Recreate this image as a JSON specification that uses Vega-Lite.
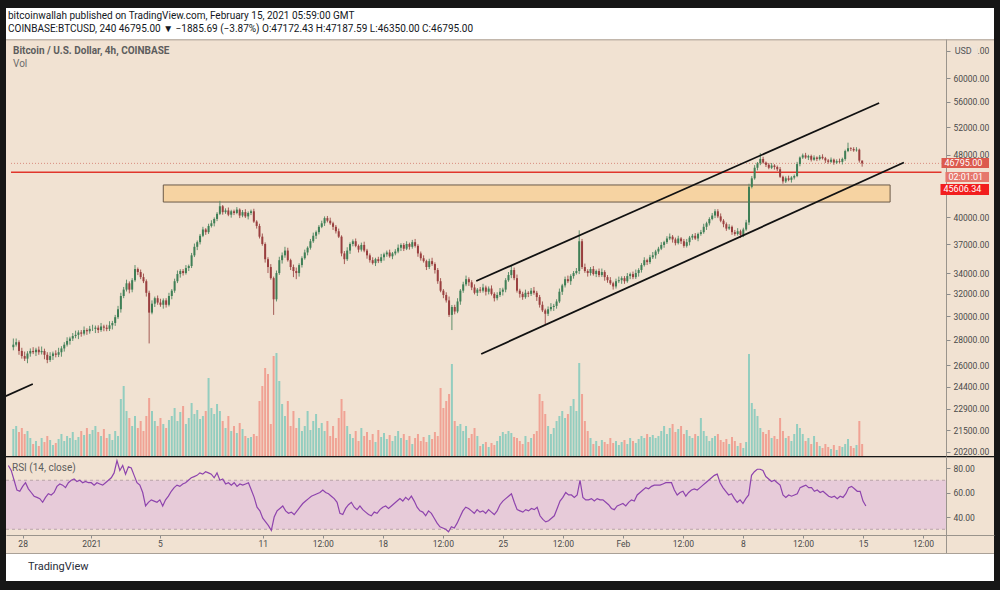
{
  "$schema": "https://vega.github.io/schema/vega-lite/v6.json",
  "background": "#161616",
  "padding": {"left": 5, "top": 8, "right": 7, "bottom": 10},
  "spacing": 0,
  "config": {
    "view": {"stroke": null},
    "font": "Roboto",
    "title": {"anchor": "start", "frame": "group", "font": "Roboto", "fontWeight": "normal", "subtitleFont": "Roboto"},
    "axis": {"labelFont": "Roboto", "labelColor": "#4a4a4a", "labelFontSize": 8.5, "tickColor": "#8c8c8c", "domainColor": "#9a948c", "grid": false, "title": null}
  },
  "datasets": {
    "candles": [
      {"t":"2020-12-27T04:00Z","o":27400,"h":28100,"l":27150,"c":27600,"v":270,"r":82},
      {"t":"2020-12-27T08:00Z","o":27600,"h":28100,"l":27450,"c":27800,"v":300,"r":78},
      {"t":"2020-12-27T12:00Z","o":27800,"h":27950,"l":26800,"c":27100,"v":240,"r":70},
      {"t":"2020-12-27T16:00Z","o":27100,"h":27350,"l":26500,"c":26700,"v":280,"r":62},
      {"t":"2020-12-27T20:00Z","o":26700,"h":27050,"l":26320,"c":26500,"v":220,"r":61},
      {"t":"2020-12-28T00:00Z","o":26500,"h":27080,"l":26150,"c":26900,"v":250,"r":65},
      {"t":"2020-12-28T04:00Z","o":26900,"h":27300,"l":26650,"c":27100,"v":180,"r":68},
      {"t":"2020-12-28T08:00Z","o":27100,"h":27400,"l":26850,"c":27000,"v":120,"r":63},
      {"t":"2020-12-28T12:00Z","o":27000,"h":27350,"l":26700,"c":27200,"v":150,"r":60},
      {"t":"2020-12-28T16:00Z","o":27200,"h":27450,"l":26800,"c":27000,"v":100,"r":57},
      {"t":"2020-12-28T20:00Z","o":27000,"h":27450,"l":26820,"c":27100,"v":180,"r":56},
      {"t":"2020-12-29T00:00Z","o":27100,"h":27280,"l":26450,"c":26800,"v":140,"r":55},
      {"t":"2020-12-29T04:00Z","o":26800,"h":27000,"l":26150,"c":26400,"v":200,"r":52},
      {"t":"2020-12-29T08:00Z","o":26400,"h":27000,"l":26250,"c":26700,"v":160,"r":56},
      {"t":"2020-12-29T12:00Z","o":26700,"h":27050,"l":26400,"c":26900,"v":110,"r":59},
      {"t":"2020-12-29T16:00Z","o":26900,"h":27150,"l":26600,"c":26800,"v":130,"r":58},
      {"t":"2020-12-29T20:00Z","o":26800,"h":27350,"l":26620,"c":27000,"v":170,"r":60},
      {"t":"2020-12-30T00:00Z","o":27000,"h":27480,"l":26650,"c":27300,"v":220,"r":65},
      {"t":"2020-12-30T04:00Z","o":27300,"h":27800,"l":27050,"c":27600,"v":150,"r":67},
      {"t":"2020-12-30T08:00Z","o":27600,"h":28200,"l":27450,"c":27900,"v":200,"r":66},
      {"t":"2020-12-30T12:00Z","o":27900,"h":28250,"l":27600,"c":28100,"v":180,"r":64},
      {"t":"2020-12-30T16:00Z","o":28100,"h":28550,"l":27900,"c":28300,"v":240,"r":68},
      {"t":"2020-12-30T20:00Z","o":28300,"h":28750,"l":28120,"c":28400,"v":160,"r":70},
      {"t":"2020-12-31T00:00Z","o":28400,"h":28780,"l":28050,"c":28600,"v":190,"r":71},
      {"t":"2020-12-31T04:00Z","o":28600,"h":28800,"l":28250,"c":28500,"v":250,"r":69},
      {"t":"2020-12-31T08:00Z","o":28500,"h":29100,"l":28350,"c":28800,"v":210,"r":70},
      {"t":"2020-12-31T12:00Z","o":28800,"h":28950,"l":28400,"c":28700,"v":280,"r":68},
      {"t":"2020-12-31T16:00Z","o":28700,"h":29150,"l":28500,"c":28900,"v":220,"r":69},
      {"t":"2020-12-31T20:00Z","o":28900,"h":29250,"l":28720,"c":28900,"v":260,"r":68},
      {"t":"2021-01-01T00:00Z","o":28900,"h":29180,"l":28550,"c":29000,"v":300,"r":68},
      {"t":"2021-01-01T04:00Z","o":29000,"h":29200,"l":28550,"c":28800,"v":240,"r":66},
      {"t":"2021-01-01T08:00Z","o":28800,"h":29400,"l":28650,"c":29100,"v":200,"r":68},
      {"t":"2021-01-01T12:00Z","o":29100,"h":29250,"l":28700,"c":29000,"v":270,"r":67},
      {"t":"2021-01-01T16:00Z","o":29000,"h":29250,"l":28700,"c":28900,"v":180,"r":66},
      {"t":"2021-01-01T20:00Z","o":28900,"h":29550,"l":28720,"c":29200,"v":220,"r":68},
      {"t":"2021-01-02T00:00Z","o":29200,"h":29580,"l":28850,"c":29400,"v":160,"r":70},
      {"t":"2021-01-02T04:00Z","o":29400,"h":30100,"l":29150,"c":29900,"v":250,"r":72},
      {"t":"2021-01-02T08:00Z","o":29900,"h":30900,"l":29750,"c":30600,"v":200,"r":76},
      {"t":"2021-01-02T12:00Z","o":30600,"h":32100,"l":30300,"c":31800,"v":570,"r":86},
      {"t":"2021-01-02T16:00Z","o":31800,"h":32650,"l":31600,"c":32400,"v":700,"r":78},
      {"t":"2021-01-02T20:00Z","o":32400,"h":33350,"l":32220,"c":33000,"v":450,"r":82},
      {"t":"2021-01-03T00:00Z","o":33000,"h":33180,"l":32050,"c":32400,"v":380,"r":75},
      {"t":"2021-01-03T04:00Z","o":32400,"h":33500,"l":32150,"c":33300,"v":300,"r":81},
      {"t":"2021-01-03T08:00Z","o":33300,"h":34800,"l":33150,"c":34400,"v":400,"r":80},
      {"t":"2021-01-03T12:00Z","o":34400,"h":34550,"l":33800,"c":34100,"v":280,"r":74},
      {"t":"2021-01-03T16:00Z","o":34100,"h":34350,"l":33400,"c":33600,"v":350,"r":68},
      {"t":"2021-01-03T20:00Z","o":33600,"h":33950,"l":33020,"c":33200,"v":250,"r":66},
      {"t":"2021-01-04T00:00Z","o":33200,"h":33380,"l":31750,"c":32100,"v":400,"r":60},
      {"t":"2021-01-04T04:00Z","o":32100,"h":32300,"l":27700,"c":30300,"v":580,"r":49},
      {"t":"2021-01-04T08:00Z","o":30300,"h":31400,"l":30150,"c":31100,"v":450,"r":52},
      {"t":"2021-01-04T12:00Z","o":31100,"h":31750,"l":30800,"c":31600,"v":350,"r":54},
      {"t":"2021-01-04T16:00Z","o":31600,"h":31850,"l":31000,"c":31200,"v":300,"r":53},
      {"t":"2021-01-04T20:00Z","o":31200,"h":31550,"l":30820,"c":31000,"v":380,"r":52},
      {"t":"2021-01-05T00:00Z","o":31000,"h":31580,"l":30650,"c":31400,"v":320,"r":54},
      {"t":"2021-01-05T04:00Z","o":31400,"h":31600,"l":30750,"c":31000,"v":280,"r":49},
      {"t":"2021-01-05T08:00Z","o":31000,"h":32100,"l":30850,"c":31800,"v":360,"r":54},
      {"t":"2021-01-05T12:00Z","o":31800,"h":32450,"l":31500,"c":32300,"v":400,"r":57},
      {"t":"2021-01-05T16:00Z","o":32300,"h":33450,"l":32100,"c":33200,"v":480,"r":61},
      {"t":"2021-01-05T20:00Z","o":33200,"h":34250,"l":33020,"c":33900,"v":350,"r":64},
      {"t":"2021-01-06T00:00Z","o":33900,"h":34380,"l":33550,"c":34200,"v":440,"r":66},
      {"t":"2021-01-06T04:00Z","o":34200,"h":34400,"l":33750,"c":34000,"v":500,"r":65},
      {"t":"2021-01-06T08:00Z","o":34000,"h":34800,"l":33850,"c":34500,"v":320,"r":67},
      {"t":"2021-01-06T12:00Z","o":34500,"h":34850,"l":34200,"c":34700,"v":380,"r":68},
      {"t":"2021-01-06T16:00Z","o":34700,"h":36050,"l":34500,"c":35800,"v":530,"r":70},
      {"t":"2021-01-06T20:00Z","o":35800,"h":37050,"l":35620,"c":36700,"v":420,"r":72},
      {"t":"2021-01-07T00:00Z","o":36700,"h":37380,"l":36350,"c":37200,"v":460,"r":73},
      {"t":"2021-01-07T04:00Z","o":37200,"h":38100,"l":36950,"c":37900,"v":370,"r":74},
      {"t":"2021-01-07T08:00Z","o":37900,"h":38900,"l":37750,"c":38600,"v":400,"r":76},
      {"t":"2021-01-07T12:00Z","o":38600,"h":38750,"l":38000,"c":38300,"v":450,"r":75},
      {"t":"2021-01-07T16:00Z","o":38300,"h":39250,"l":38100,"c":39000,"v":780,"r":77},
      {"t":"2021-01-07T20:00Z","o":39000,"h":39650,"l":38820,"c":39300,"v":480,"r":76},
      {"t":"2021-01-08T00:00Z","o":39300,"h":39980,"l":38950,"c":39800,"v":420,"r":75},
      {"t":"2021-01-08T04:00Z","o":39800,"h":40600,"l":39550,"c":40400,"v":520,"r":72},
      {"t":"2021-01-08T08:00Z","o":40400,"h":41950,"l":40250,"c":41300,"v":450,"r":76},
      {"t":"2021-01-08T12:00Z","o":41300,"h":41450,"l":40300,"c":40600,"v":350,"r":70},
      {"t":"2021-01-08T16:00Z","o":40600,"h":41050,"l":40400,"c":40800,"v":280,"r":71},
      {"t":"2021-01-08T20:00Z","o":40800,"h":41150,"l":40120,"c":40300,"v":400,"r":67},
      {"t":"2021-01-09T00:00Z","o":40300,"h":40880,"l":39950,"c":40700,"v":250,"r":68},
      {"t":"2021-01-09T04:00Z","o":40700,"h":40900,"l":40250,"c":40500,"v":300,"r":66},
      {"t":"2021-01-09T08:00Z","o":40500,"h":41200,"l":40350,"c":40900,"v":230,"r":68},
      {"t":"2021-01-09T12:00Z","o":40900,"h":41050,"l":39900,"c":40200,"v":330,"r":65},
      {"t":"2021-01-09T16:00Z","o":40200,"h":40850,"l":40000,"c":40600,"v":270,"r":67},
      {"t":"2021-01-09T20:00Z","o":40600,"h":40950,"l":39920,"c":40100,"v":200,"r":66},
      {"t":"2021-01-10T00:00Z","o":40100,"h":40680,"l":39750,"c":40500,"v":180,"r":67},
      {"t":"2021-01-10T04:00Z","o":40500,"h":40900,"l":40250,"c":40700,"v":190,"r":68},
      {"t":"2021-01-10T08:00Z","o":40700,"h":41000,"l":39350,"c":39500,"v":220,"r":62},
      {"t":"2021-01-10T12:00Z","o":39500,"h":39650,"l":38700,"c":39000,"v":200,"r":56},
      {"t":"2021-01-10T16:00Z","o":39000,"h":39250,"l":37600,"c":37800,"v":550,"r":48},
      {"t":"2021-01-10T20:00Z","o":37800,"h":38150,"l":36820,"c":37000,"v":700,"r":45},
      {"t":"2021-01-11T00:00Z","o":37000,"h":37180,"l":35050,"c":35400,"v":880,"r":39},
      {"t":"2021-01-11T04:00Z","o":35400,"h":35600,"l":34000,"c":34600,"v":820,"r":36},
      {"t":"2021-01-11T08:00Z","o":34600,"h":34900,"l":33350,"c":33500,"v":320,"r":33},
      {"t":"2021-01-11T12:00Z","o":33500,"h":33650,"l":30100,"c":31500,"v":1000,"r":29},
      {"t":"2021-01-11T16:00Z","o":31500,"h":34250,"l":31300,"c":34000,"v":1030,"r":40},
      {"t":"2021-01-11T20:00Z","o":34000,"h":35650,"l":33820,"c":35300,"v":750,"r":45},
      {"t":"2021-01-12T00:00Z","o":35300,"h":36100,"l":34950,"c":35800,"v":520,"r":47},
      {"t":"2021-01-12T04:00Z","o":35800,"h":36700,"l":35550,"c":36300,"v":400,"r":49},
      {"t":"2021-01-12T08:00Z","o":36300,"h":36600,"l":35150,"c":35300,"v":550,"r":45},
      {"t":"2021-01-12T12:00Z","o":35300,"h":35450,"l":34300,"c":34600,"v":300,"r":43},
      {"t":"2021-01-12T16:00Z","o":34600,"h":34850,"l":33600,"c":34200,"v":450,"r":44},
      {"t":"2021-01-12T20:00Z","o":34200,"h":34550,"l":33400,"c":34000,"v":280,"r":42},
      {"t":"2021-01-13T00:00Z","o":34000,"h":34980,"l":33650,"c":34800,"v":380,"r":45},
      {"t":"2021-01-13T04:00Z","o":34800,"h":35700,"l":34550,"c":35500,"v":250,"r":48},
      {"t":"2021-01-13T08:00Z","o":35500,"h":36400,"l":35350,"c":36100,"v":300,"r":51},
      {"t":"2021-01-13T12:00Z","o":36100,"h":36750,"l":35800,"c":36600,"v":450,"r":53},
      {"t":"2021-01-13T16:00Z","o":36600,"h":37550,"l":36400,"c":37300,"v":260,"r":55},
      {"t":"2021-01-13T20:00Z","o":37300,"h":38250,"l":37120,"c":37900,"v":350,"r":57},
      {"t":"2021-01-14T00:00Z","o":37900,"h":38480,"l":37550,"c":38300,"v":420,"r":58},
      {"t":"2021-01-14T04:00Z","o":38300,"h":39100,"l":38050,"c":38900,"v":280,"r":59},
      {"t":"2021-01-14T08:00Z","o":38900,"h":39600,"l":38750,"c":39300,"v":330,"r":60},
      {"t":"2021-01-14T12:00Z","o":39300,"h":40100,"l":39000,"c":39900,"v":250,"r":62},
      {"t":"2021-01-14T16:00Z","o":39900,"h":40150,"l":39400,"c":39600,"v":350,"r":60},
      {"t":"2021-01-14T20:00Z","o":39600,"h":39950,"l":39120,"c":39300,"v":200,"r":59},
      {"t":"2021-01-15T00:00Z","o":39300,"h":39480,"l":38550,"c":38900,"v":300,"r":57},
      {"t":"2021-01-15T04:00Z","o":38900,"h":39100,"l":38150,"c":38400,"v":180,"r":55},
      {"t":"2021-01-15T08:00Z","o":38400,"h":38700,"l":37650,"c":37800,"v":380,"r":52},
      {"t":"2021-01-15T12:00Z","o":37800,"h":37950,"l":35700,"c":36000,"v":570,"r":43},
      {"t":"2021-01-15T16:00Z","o":36000,"h":36250,"l":34900,"c":35400,"v":450,"r":42},
      {"t":"2021-01-15T20:00Z","o":35400,"h":36650,"l":35220,"c":36300,"v":300,"r":47},
      {"t":"2021-01-16T00:00Z","o":36300,"h":37180,"l":35950,"c":37000,"v":220,"r":50},
      {"t":"2021-01-16T04:00Z","o":37000,"h":37500,"l":36750,"c":37300,"v":180,"r":52},
      {"t":"2021-01-16T08:00Z","o":37300,"h":37600,"l":36650,"c":36800,"v":250,"r":48},
      {"t":"2021-01-16T12:00Z","o":36800,"h":36950,"l":36100,"c":36400,"v":150,"r":46},
      {"t":"2021-01-16T16:00Z","o":36400,"h":37150,"l":36200,"c":36900,"v":280,"r":49},
      {"t":"2021-01-16T20:00Z","o":36900,"h":37250,"l":36120,"c":36300,"v":200,"r":46},
      {"t":"2021-01-17T00:00Z","o":36300,"h":36480,"l":35450,"c":35800,"v":240,"r":44},
      {"t":"2021-01-17T04:00Z","o":35800,"h":36000,"l":35050,"c":35300,"v":160,"r":42},
      {"t":"2021-01-17T08:00Z","o":35300,"h":35600,"l":34850,"c":35000,"v":220,"r":41},
      {"t":"2021-01-17T12:00Z","o":35000,"h":35550,"l":34700,"c":35400,"v":140,"r":44},
      {"t":"2021-01-17T16:00Z","o":35400,"h":35650,"l":35000,"c":35200,"v":260,"r":43},
      {"t":"2021-01-17T20:00Z","o":35200,"h":35950,"l":35020,"c":35600,"v":190,"r":46},
      {"t":"2021-01-18T00:00Z","o":35600,"h":36080,"l":35250,"c":35900,"v":230,"r":48},
      {"t":"2021-01-18T04:00Z","o":35900,"h":36300,"l":35650,"c":36100,"v":170,"r":49},
      {"t":"2021-01-18T08:00Z","o":36100,"h":36400,"l":35550,"c":35700,"v":210,"r":47},
      {"t":"2021-01-18T12:00Z","o":35700,"h":36150,"l":35400,"c":36000,"v":150,"r":49},
      {"t":"2021-01-18T16:00Z","o":36000,"h":36450,"l":35800,"c":36200,"v":200,"r":51},
      {"t":"2021-01-18T20:00Z","o":36200,"h":36950,"l":36020,"c":36600,"v":250,"r":53},
      {"t":"2021-01-19T00:00Z","o":36600,"h":37080,"l":36250,"c":36900,"v":180,"r":55},
      {"t":"2021-01-19T04:00Z","o":36900,"h":37100,"l":36250,"c":36500,"v":220,"r":53},
      {"t":"2021-01-19T08:00Z","o":36500,"h":37300,"l":36350,"c":37000,"v":160,"r":56},
      {"t":"2021-01-19T12:00Z","o":37000,"h":37150,"l":36400,"c":36700,"v":200,"r":54},
      {"t":"2021-01-19T16:00Z","o":36700,"h":37450,"l":36500,"c":37200,"v":120,"r":57},
      {"t":"2021-01-19T20:00Z","o":37200,"h":37550,"l":36620,"c":36800,"v":180,"r":53},
      {"t":"2021-01-20T00:00Z","o":36800,"h":36980,"l":35650,"c":36000,"v":220,"r":48},
      {"t":"2021-01-20T04:00Z","o":36000,"h":36200,"l":35250,"c":35500,"v":150,"r":45},
      {"t":"2021-01-20T08:00Z","o":35500,"h":35800,"l":35050,"c":35200,"v":190,"r":44},
      {"t":"2021-01-20T12:00Z","o":35200,"h":35350,"l":34300,"c":34600,"v":140,"r":41},
      {"t":"2021-01-20T16:00Z","o":34600,"h":35450,"l":34400,"c":35200,"v":210,"r":45},
      {"t":"2021-01-20T20:00Z","o":35200,"h":35550,"l":34720,"c":34900,"v":170,"r":43},
      {"t":"2021-01-21T00:00Z","o":34900,"h":35080,"l":33950,"c":34300,"v":240,"r":39},
      {"t":"2021-01-21T04:00Z","o":34300,"h":34500,"l":32950,"c":33200,"v":200,"r":35},
      {"t":"2021-01-21T08:00Z","o":33200,"h":33500,"l":32150,"c":32300,"v":680,"r":32},
      {"t":"2021-01-21T12:00Z","o":32300,"h":32450,"l":31600,"c":31900,"v":480,"r":31},
      {"t":"2021-01-21T16:00Z","o":31900,"h":32150,"l":31200,"c":31400,"v":550,"r":30},
      {"t":"2021-01-21T20:00Z","o":31400,"h":31750,"l":29920,"c":30100,"v":620,"r":28},
      {"t":"2021-01-22T00:00Z","o":30100,"h":30980,"l":28800,"c":30800,"v":920,"r":32},
      {"t":"2021-01-22T04:00Z","o":30800,"h":31000,"l":30150,"c":30400,"v":350,"r":31},
      {"t":"2021-01-22T08:00Z","o":30400,"h":31600,"l":30250,"c":31300,"v":300,"r":35},
      {"t":"2021-01-22T12:00Z","o":31300,"h":32450,"l":31000,"c":32300,"v":320,"r":40},
      {"t":"2021-01-22T16:00Z","o":32300,"h":33150,"l":32100,"c":32900,"v":250,"r":45},
      {"t":"2021-01-22T20:00Z","o":32900,"h":33750,"l":32720,"c":33400,"v":300,"r":48},
      {"t":"2021-01-23T00:00Z","o":33400,"h":33580,"l":32750,"c":33100,"v":180,"r":47},
      {"t":"2021-01-23T04:00Z","o":33100,"h":33300,"l":32350,"c":32600,"v":220,"r":45},
      {"t":"2021-01-23T08:00Z","o":32600,"h":32900,"l":31950,"c":32100,"v":280,"r":43},
      {"t":"2021-01-23T12:00Z","o":32100,"h":32550,"l":31800,"c":32400,"v":200,"r":46},
      {"t":"2021-01-23T16:00Z","o":32400,"h":32650,"l":32100,"c":32300,"v":100,"r":44},
      {"t":"2021-01-23T20:00Z","o":32300,"h":32950,"l":32120,"c":32600,"v":120,"r":45},
      {"t":"2021-01-24T00:00Z","o":32600,"h":32780,"l":31850,"c":32200,"v":140,"r":43},
      {"t":"2021-01-24T04:00Z","o":32200,"h":32700,"l":31950,"c":32500,"v":90,"r":46},
      {"t":"2021-01-24T08:00Z","o":32500,"h":32800,"l":31850,"c":32000,"v":130,"r":44},
      {"t":"2021-01-24T12:00Z","o":32000,"h":32150,"l":31300,"c":31600,"v":110,"r":42},
      {"t":"2021-01-24T16:00Z","o":31600,"h":32150,"l":31400,"c":31900,"v":150,"r":45},
      {"t":"2021-01-24T20:00Z","o":31900,"h":32550,"l":31720,"c":32200,"v":200,"r":50},
      {"t":"2021-01-25T00:00Z","o":32200,"h":32580,"l":31850,"c":32400,"v":240,"r":53},
      {"t":"2021-01-25T04:00Z","o":32400,"h":33500,"l":32150,"c":33300,"v":220,"r":55},
      {"t":"2021-01-25T08:00Z","o":33300,"h":34100,"l":33150,"c":33800,"v":250,"r":57},
      {"t":"2021-01-25T12:00Z","o":33800,"h":34800,"l":33500,"c":34300,"v":230,"r":59},
      {"t":"2021-01-25T16:00Z","o":34300,"h":34550,"l":33300,"c":33500,"v":190,"r":52},
      {"t":"2021-01-25T20:00Z","o":33500,"h":33850,"l":32120,"c":32300,"v":180,"r":46},
      {"t":"2021-01-26T00:00Z","o":32300,"h":32480,"l":31650,"c":32000,"v":150,"r":45},
      {"t":"2021-01-26T04:00Z","o":32000,"h":32200,"l":31450,"c":31700,"v":120,"r":44},
      {"t":"2021-01-26T08:00Z","o":31700,"h":32400,"l":31550,"c":32100,"v":200,"r":46},
      {"t":"2021-01-26T12:00Z","o":32100,"h":32250,"l":31700,"c":32000,"v":140,"r":45},
      {"t":"2021-01-26T16:00Z","o":32000,"h":32550,"l":31800,"c":32300,"v":180,"r":47},
      {"t":"2021-01-26T20:00Z","o":32300,"h":32650,"l":31920,"c":32100,"v":220,"r":46},
      {"t":"2021-01-27T00:00Z","o":32100,"h":32280,"l":31350,"c":31700,"v":250,"r":48},
      {"t":"2021-01-27T04:00Z","o":31700,"h":31900,"l":30750,"c":31000,"v":620,"r":41},
      {"t":"2021-01-27T08:00Z","o":31000,"h":31300,"l":30350,"c":30500,"v":550,"r":38},
      {"t":"2021-01-27T12:00Z","o":30500,"h":30650,"l":29300,"c":30200,"v":420,"r":36},
      {"t":"2021-01-27T16:00Z","o":30200,"h":30850,"l":30000,"c":30600,"v":300,"r":37},
      {"t":"2021-01-27T20:00Z","o":30600,"h":31150,"l":30420,"c":30800,"v":220,"r":39},
      {"t":"2021-01-28T00:00Z","o":30800,"h":31080,"l":30450,"c":30900,"v":280,"r":41},
      {"t":"2021-01-28T04:00Z","o":30900,"h":31500,"l":30650,"c":31300,"v":350,"r":47},
      {"t":"2021-01-28T08:00Z","o":31300,"h":32500,"l":31150,"c":32200,"v":400,"r":53},
      {"t":"2021-01-28T12:00Z","o":32200,"h":32950,"l":31900,"c":32800,"v":450,"r":56},
      {"t":"2021-01-28T16:00Z","o":32800,"h":33650,"l":32600,"c":33400,"v":380,"r":60},
      {"t":"2021-01-28T20:00Z","o":33400,"h":33750,"l":33020,"c":33200,"v":420,"r":58},
      {"t":"2021-01-29T00:00Z","o":33200,"h":33880,"l":32850,"c":33700,"v":500,"r":58},
      {"t":"2021-01-29T04:00Z","o":33700,"h":34200,"l":33450,"c":34000,"v":570,"r":56},
      {"t":"2021-01-29T08:00Z","o":34000,"h":34500,"l":33850,"c":34200,"v":450,"r":58},
      {"t":"2021-01-29T12:00Z","o":34200,"h":38500,"l":33900,"c":37300,"v":930,"r":70},
      {"t":"2021-01-29T16:00Z","o":37300,"h":37550,"l":34400,"c":34600,"v":620,"r":56},
      {"t":"2021-01-29T20:00Z","o":34600,"h":34950,"l":34020,"c":34200,"v":350,"r":54},
      {"t":"2021-01-30T00:00Z","o":34200,"h":34380,"l":33650,"c":34000,"v":250,"r":54},
      {"t":"2021-01-30T04:00Z","o":34000,"h":34600,"l":33750,"c":34400,"v":180,"r":55},
      {"t":"2021-01-30T08:00Z","o":34400,"h":34700,"l":33750,"c":33900,"v":120,"r":53},
      {"t":"2021-01-30T12:00Z","o":33900,"h":34350,"l":33600,"c":34200,"v":150,"r":55},
      {"t":"2021-01-30T16:00Z","o":34200,"h":34450,"l":33600,"c":33800,"v":100,"r":54},
      {"t":"2021-01-30T20:00Z","o":33800,"h":34450,"l":33620,"c":34100,"v":160,"r":54},
      {"t":"2021-01-31T00:00Z","o":34100,"h":34280,"l":33250,"c":33600,"v":140,"r":52},
      {"t":"2021-01-31T04:00Z","o":33600,"h":33800,"l":33050,"c":33300,"v":120,"r":50},
      {"t":"2021-01-31T08:00Z","o":33300,"h":33600,"l":32850,"c":33000,"v":180,"r":47},
      {"t":"2021-01-31T12:00Z","o":33000,"h":33150,"l":32400,"c":32700,"v":130,"r":46},
      {"t":"2021-01-31T16:00Z","o":32700,"h":33450,"l":32500,"c":33200,"v":150,"r":49},
      {"t":"2021-01-31T20:00Z","o":33200,"h":33650,"l":33020,"c":33300,"v":110,"r":50},
      {"t":"2021-02-01T00:00Z","o":33300,"h":33680,"l":32950,"c":33500,"v":140,"r":51},
      {"t":"2021-02-01T04:00Z","o":33500,"h":33700,"l":32950,"c":33200,"v":160,"r":49},
      {"t":"2021-02-01T08:00Z","o":33200,"h":34000,"l":33050,"c":33700,"v":120,"r":52},
      {"t":"2021-02-01T12:00Z","o":33700,"h":34050,"l":33400,"c":33900,"v":180,"r":54},
      {"t":"2021-02-01T16:00Z","o":33900,"h":34150,"l":33400,"c":33600,"v":150,"r":53},
      {"t":"2021-02-01T20:00Z","o":33600,"h":34350,"l":33420,"c":34000,"v":130,"r":58},
      {"t":"2021-02-02T00:00Z","o":34000,"h":34480,"l":33650,"c":34300,"v":170,"r":60},
      {"t":"2021-02-02T04:00Z","o":34300,"h":35000,"l":34050,"c":34800,"v":200,"r":62},
      {"t":"2021-02-02T08:00Z","o":34800,"h":35600,"l":34650,"c":35300,"v":180,"r":64},
      {"t":"2021-02-02T12:00Z","o":35300,"h":35450,"l":34800,"c":35100,"v":220,"r":63},
      {"t":"2021-02-02T16:00Z","o":35100,"h":35850,"l":34900,"c":35600,"v":190,"r":65},
      {"t":"2021-02-02T20:00Z","o":35600,"h":36150,"l":35420,"c":35800,"v":210,"r":66},
      {"t":"2021-02-03T00:00Z","o":35800,"h":36380,"l":35450,"c":36200,"v":180,"r":66},
      {"t":"2021-02-03T04:00Z","o":36200,"h":36700,"l":35950,"c":36500,"v":200,"r":66},
      {"t":"2021-02-03T08:00Z","o":36500,"h":37200,"l":36350,"c":36900,"v":250,"r":67},
      {"t":"2021-02-03T12:00Z","o":36900,"h":37350,"l":36600,"c":37200,"v":300,"r":68},
      {"t":"2021-02-03T16:00Z","o":37200,"h":37850,"l":37000,"c":37600,"v":220,"r":68},
      {"t":"2021-02-03T20:00Z","o":37600,"h":38150,"l":37420,"c":37800,"v":280,"r":68},
      {"t":"2021-02-04T00:00Z","o":37800,"h":37980,"l":37150,"c":37500,"v":320,"r":62},
      {"t":"2021-02-04T04:00Z","o":37500,"h":37700,"l":36850,"c":37100,"v":240,"r":58},
      {"t":"2021-02-04T08:00Z","o":37100,"h":37900,"l":36950,"c":37600,"v":270,"r":60},
      {"t":"2021-02-04T12:00Z","o":37600,"h":37750,"l":37000,"c":37300,"v":300,"r":61},
      {"t":"2021-02-04T16:00Z","o":37300,"h":37550,"l":36600,"c":36800,"v":220,"r":57},
      {"t":"2021-02-04T20:00Z","o":36800,"h":37550,"l":36620,"c":37200,"v":260,"r":60},
      {"t":"2021-02-05T00:00Z","o":37200,"h":37880,"l":36850,"c":37700,"v":200,"r":62},
      {"t":"2021-02-05T04:00Z","o":37700,"h":38100,"l":37450,"c":37900,"v":180,"r":63},
      {"t":"2021-02-05T08:00Z","o":37900,"h":38200,"l":37450,"c":37600,"v":220,"r":62},
      {"t":"2021-02-05T12:00Z","o":37600,"h":38250,"l":37300,"c":38100,"v":200,"r":64},
      {"t":"2021-02-05T16:00Z","o":38100,"h":38550,"l":37900,"c":38300,"v":380,"r":66},
      {"t":"2021-02-05T20:00Z","o":38300,"h":39250,"l":38120,"c":38900,"v":250,"r":68},
      {"t":"2021-02-06T00:00Z","o":38900,"h":39480,"l":38550,"c":39300,"v":200,"r":70},
      {"t":"2021-02-06T04:00Z","o":39300,"h":40000,"l":39050,"c":39800,"v":150,"r":72},
      {"t":"2021-02-06T08:00Z","o":39800,"h":40500,"l":39650,"c":40200,"v":180,"r":74},
      {"t":"2021-02-06T12:00Z","o":40200,"h":40950,"l":39900,"c":40700,"v":200,"r":75},
      {"t":"2021-02-06T16:00Z","o":40700,"h":40950,"l":39900,"c":40100,"v":220,"r":68},
      {"t":"2021-02-06T20:00Z","o":40100,"h":40450,"l":39420,"c":39600,"v":160,"r":64},
      {"t":"2021-02-07T00:00Z","o":39600,"h":39780,"l":38850,"c":39200,"v":140,"r":61},
      {"t":"2021-02-07T04:00Z","o":39200,"h":39400,"l":38450,"c":38700,"v":170,"r":58},
      {"t":"2021-02-07T08:00Z","o":38700,"h":39200,"l":38550,"c":38900,"v":120,"r":59},
      {"t":"2021-02-07T12:00Z","o":38900,"h":39050,"l":38000,"c":38300,"v":190,"r":55},
      {"t":"2021-02-07T16:00Z","o":38300,"h":38550,"l":37900,"c":38100,"v":150,"r":52},
      {"t":"2021-02-07T20:00Z","o":38100,"h":38750,"l":37920,"c":38400,"v":100,"r":54},
      {"t":"2021-02-08T00:00Z","o":38400,"h":38580,"l":37650,"c":38000,"v":130,"r":51},
      {"t":"2021-02-08T04:00Z","o":38000,"h":38800,"l":37750,"c":38600,"v":80,"r":55},
      {"t":"2021-02-08T08:00Z","o":38600,"h":39700,"l":38450,"c":39400,"v":140,"r":58},
      {"t":"2021-02-08T12:00Z","o":39400,"h":44100,"l":39100,"c":43700,"v":1020,"r":74},
      {"t":"2021-02-08T16:00Z","o":43700,"h":45100,"l":43500,"c":44800,"v":530,"r":77},
      {"t":"2021-02-08T20:00Z","o":44800,"h":46550,"l":44620,"c":46200,"v":470,"r":79},
      {"t":"2021-02-09T00:00Z","o":46200,"h":46980,"l":45850,"c":46800,"v":400,"r":79},
      {"t":"2021-02-09T04:00Z","o":46800,"h":48200,"l":46550,"c":47400,"v":280,"r":78},
      {"t":"2021-02-09T08:00Z","o":47400,"h":47700,"l":46750,"c":46900,"v":240,"r":73},
      {"t":"2021-02-09T12:00Z","o":46900,"h":47050,"l":46300,"c":46600,"v":220,"r":71},
      {"t":"2021-02-09T16:00Z","o":46600,"h":46850,"l":46000,"c":46200,"v":260,"r":69},
      {"t":"2021-02-09T20:00Z","o":46200,"h":46850,"l":46020,"c":46500,"v":180,"r":70},
      {"t":"2021-02-10T00:00Z","o":46500,"h":46680,"l":45950,"c":46300,"v":200,"r":68},
      {"t":"2021-02-10T04:00Z","o":46300,"h":46500,"l":45750,"c":46000,"v":170,"r":66},
      {"t":"2021-02-10T08:00Z","o":46000,"h":46300,"l":44850,"c":45000,"v":380,"r":58},
      {"t":"2021-02-10T12:00Z","o":45000,"h":45150,"l":44100,"c":44400,"v":250,"r":56},
      {"t":"2021-02-10T16:00Z","o":44400,"h":45050,"l":44200,"c":44800,"v":180,"r":58},
      {"t":"2021-02-10T20:00Z","o":44800,"h":45150,"l":44420,"c":44600,"v":200,"r":57},
      {"t":"2021-02-11T00:00Z","o":44600,"h":45080,"l":44250,"c":44900,"v":150,"r":58},
      {"t":"2021-02-11T04:00Z","o":44900,"h":45300,"l":44650,"c":45100,"v":220,"r":59},
      {"t":"2021-02-11T08:00Z","o":45100,"h":47000,"l":44950,"c":46700,"v":320,"r":64},
      {"t":"2021-02-11T12:00Z","o":46700,"h":47750,"l":46400,"c":47600,"v":280,"r":65},
      {"t":"2021-02-11T16:00Z","o":47600,"h":48150,"l":47400,"c":47900,"v":220,"r":66},
      {"t":"2021-02-11T20:00Z","o":47900,"h":48250,"l":47420,"c":47600,"v":150,"r":64},
      {"t":"2021-02-12T00:00Z","o":47600,"h":47980,"l":47250,"c":47800,"v":180,"r":64},
      {"t":"2021-02-12T04:00Z","o":47800,"h":48000,"l":47050,"c":47300,"v":120,"r":61},
      {"t":"2021-02-12T08:00Z","o":47300,"h":47900,"l":47150,"c":47600,"v":200,"r":62},
      {"t":"2021-02-12T12:00Z","o":47600,"h":47750,"l":47100,"c":47400,"v":140,"r":60},
      {"t":"2021-02-12T16:00Z","o":47400,"h":47950,"l":47200,"c":47700,"v":100,"r":61},
      {"t":"2021-02-12T20:00Z","o":47700,"h":48050,"l":47320,"c":47500,"v":80,"r":59},
      {"t":"2021-02-13T00:00Z","o":47500,"h":47680,"l":46850,"c":47200,"v":120,"r":57},
      {"t":"2021-02-13T04:00Z","o":47200,"h":47400,"l":46750,"c":47000,"v":90,"r":56},
      {"t":"2021-02-13T08:00Z","o":47000,"h":47600,"l":46850,"c":47300,"v":70,"r":57},
      {"t":"2021-02-13T12:00Z","o":47300,"h":47450,"l":46600,"c":46900,"v":110,"r":55},
      {"t":"2021-02-13T16:00Z","o":46900,"h":47350,"l":46700,"c":47100,"v":60,"r":57},
      {"t":"2021-02-13T20:00Z","o":47100,"h":47450,"l":46820,"c":47000,"v":100,"r":56},
      {"t":"2021-02-14T00:00Z","o":47000,"h":47580,"l":46650,"c":47400,"v":90,"r":59},
      {"t":"2021-02-14T04:00Z","o":47400,"h":48700,"l":47150,"c":48500,"v":120,"r":64},
      {"t":"2021-02-14T08:00Z","o":48500,"h":49700,"l":48350,"c":48900,"v":170,"r":65},
      {"t":"2021-02-14T12:00Z","o":48900,"h":49050,"l":48500,"c":48800,"v":100,"r":63},
      {"t":"2021-02-14T16:00Z","o":48800,"h":49050,"l":48400,"c":48600,"v":80,"r":61},
      {"t":"2021-02-14T20:00Z","o":48600,"h":49050,"l":48420,"c":48700,"v":110,"r":61},
      {"t":"2021-02-15T00:00Z","o":48700,"h":48850,"l":46900,"c":47172.43,"v":350,"r":53},
      {"t":"2021-02-15T04:00Z","o":47172.43,"h":47187.59,"l":46350,"c":46795,"v":120,"r":49}
    ],
    "zone": [{"t":"2021-01-05T00:00Z","t2":"2021-02-16T19:30Z","p":41810,"p2":43940}],
    "levels": [
      {"t":"2020-12-27T00:43Z","t2":"2021-02-19T20:09Z","p":45606.34,"kind":"support"},
      {"t":"2020-12-27T00:43Z","t2":"2021-02-19T20:09Z","p":46795,"kind":"last"}
    ],
    "priceEdge": [{"t":"2020-12-26T00:00Z","t2":"2021-02-23T00:00Z","p":67050}],
    "trend": [
      {"id":"upper","t":"2021-01-23T10:25Z","p":33220},
      {"id":"upper","t":"2021-02-16T04:00Z","p":55790},
      {"id":"lower","t":"2021-01-23T17:25Z","p":26860},
      {"id":"lower","t":"2021-02-17T15:00Z","p":46910},
      {"id":"old","t":"2020-12-26T12:00Z","p":23640},
      {"id":"old","t":"2020-12-28T07:30Z","p":24610}
    ],
    "tagBoxes": [
      {"t":"2021-02-19T20:10Z","t2":"2021-02-22T15:20Z","p":47531,"p2":46167,"kind":"last"},
      {"t":"2021-02-20T01:45Z","t2":"2021-02-22T15:20Z","p":45633,"p2":44323,"kind":"timer"},
      {"t":"2021-02-19T18:45Z","t2":"2021-02-22T15:20Z","p":44066,"p2":42677,"kind":"support"},
      {"t":"2021-02-20T10:30Z","t2":"2021-02-21T23:00Z","p":66000,"p2":64000,"kind":"unit"}
    ],
    "tagText": [
      {"t":"2021-02-19T20:10Z","p":46795,"label":"46795.00","kind":"last"},
      {"t":"2021-02-20T01:45Z","p":44974,"label":"02:01:01","kind":"timer"},
      {"t":"2021-02-19T18:45Z","p":43366,"label":"45606.34","kind":"support"},
      {"t":"2021-02-20T10:30Z","p":65000,"label":"USD","kind":"unit"}
    ],
    "bands": [{"t":"2020-12-27T00:43Z","t2":"2021-02-19T20:09Z","lv":30,"lv2":70}],
    "bandLines": [
      {"t":"2020-12-27T00:43Z","t2":"2021-02-19T20:09Z","lv":30},
      {"t":"2020-12-27T00:43Z","t2":"2021-02-19T20:09Z","lv":70}
    ],
    "rsiEdges": [
      {"t":"2020-12-26T00:00Z","t2":"2021-02-23T00:00Z","lv":88.6},
      {"t":"2020-12-26T00:00Z","t2":"2021-02-23T00:00Z","lv":10.2}
    ]
  },
  "vconcat": [
    {
      "width": 988,
      "height": 31,
      "view": {"fill": "#ffffff", "stroke": null},
      "title": {
        "text": "bitcoinwallah published on TradingView.com, February 15, 2021 05:59:00 GMT",
        "subtitle": "COINBASE:BTCUSD, 240  46795.00 ▼ −1885.69 (−3.87%)  O:47172.43  H:47187.59  L:46350.00  C:46795.00",
        "offset": -26,
        "dx": 2,
        "fontSize": 10,
        "color": "#131722",
        "subtitleFontSize": 10,
        "subtitleColor": "#131722",
        "subtitlePadding": 3
      },
      "data": {"values": [{}]},
      "mark": {"type": "point", "opacity": 0},
      "encoding": {}
    },
    {
      "width": 988,
      "height": 417,
      "view": {"fill": "#f1e2d2", "stroke": null},
      "title": {
        "text": "Bitcoin / U.S. Dollar, 4h, COINBASE",
        "subtitle": "Vol",
        "offset": -30,
        "dx": 7,
        "fontSize": 10,
        "fontWeight": "bold",
        "color": "#5d5d5d",
        "subtitleFontSize": 10,
        "subtitleColor": "#6d6d6d",
        "subtitlePadding": 3
      },
      "layer": [
        {
          "data": {"name": "candles"},
          "mark": {"type": "bar", "size": 2},
          "encoding": {
            "x": {"field": "t", "type": "temporal", "scale": {"type": "utc", "domain": [1609029705600, 1614007166400]}, "axis": null},
            "y": {"field": "v", "type": "quantitative", "scale": {"domain": [0, 4170]}, "axis": null},
            "color": {"condition": {"test": "datum.c >= datum.o", "value": "#93cdbf"}, "value": "#f0a294"}
          }
        },
        {
          "encoding": {
            "x": {"field": "t", "type": "temporal", "scale": {"type": "utc", "domain": [1609029705600, 1614007166400]}, "axis": null},
            "y": {
              "field": "p", "type": "quantitative",
              "scale": {"type": "log", "domain": [19958, 67216], "nice": false, "zero": false},
              "axis": {
                "orient": "right", "offset": -48,
                "values": [20200, 21500, 22900, 24400, 26000, 28000, 30000, 32000, 34000, 37000, 40000, 48000, 52000, 56000, 60000, 65000],
                "format": ".2f", "tickSize": 4, "labelPadding": 3, "labelOverlap": false, "labelBound": false
              }
            }
          },
          "layer": [
            {
              "data": {"name": "priceEdge"},
              "mark": {"type": "rule", "color": "#aaa197", "strokeWidth": 1, "clip": true},
              "encoding": {"x2": {"field": "t2"}}
            },
            {
              "data": {"name": "zone"},
              "mark": {"type": "rect", "fill": "#f6d3a2", "stroke": "#6b5a48", "strokeWidth": 1},
              "encoding": {"x2": {"field": "t2"}, "y2": {"field": "p2"}}
            },
            {
              "data": {"name": "levels"},
              "mark": {"type": "rule"},
              "encoding": {
                "x2": {"field": "t2"},
                "color": {"condition": {"test": "datum.kind == 'support'", "value": "#e0352b"}, "value": "#d98d7f"},
                "strokeDash": {"condition": {"test": "datum.kind == 'support'", "value": [1, 0]}, "value": [1, 2]},
                "strokeWidth": {"condition": {"test": "datum.kind == 'support'", "value": 1.5}, "value": 1}
              }
            },
            {
              "data": {"name": "candles"},
              "mark": {"type": "rule", "strokeWidth": 1},
              "encoding": {
                "y": {
                  "field": "l", "type": "quantitative",
                  "scale": {"type": "log", "domain": [19958, 67216], "nice": false, "zero": false},
                  "axis": {
                    "orient": "right", "offset": -48,
                    "values": [20200, 21500, 22900, 24400, 26000, 28000, 30000, 32000, 34000, 37000, 40000, 48000, 52000, 56000, 60000, 65000],
                    "format": ".2f", "tickSize": 4, "labelPadding": 3, "labelOverlap": false, "labelBound": false
                  }
                },
                "y2": {"field": "h"},
                "color": {"condition": {"test": "datum.c >= datum.o", "value": "#5f8f6c"}, "value": "#a45a55"}
              }
            },
            {
              "data": {"name": "candles"},
              "mark": {"type": "bar", "size": 2},
              "encoding": {
                "y": {
                  "field": "o", "type": "quantitative",
                  "scale": {"type": "log", "domain": [19958, 67216], "nice": false, "zero": false},
                  "axis": {
                    "orient": "right", "offset": -48,
                    "values": [20200, 21500, 22900, 24400, 26000, 28000, 30000, 32000, 34000, 37000, 40000, 48000, 52000, 56000, 60000, 65000],
                    "format": ".2f", "tickSize": 4, "labelPadding": 3, "labelOverlap": false, "labelBound": false
                  }
                },
                "y2": {"field": "c"},
                "color": {"condition": {"test": "datum.c >= datum.o", "value": "#3f7f56"}, "value": "#9a3f3f"}
              }
            },
            {
              "data": {"name": "trend"},
              "mark": {"type": "line", "color": "#111111", "strokeWidth": 1.8, "clip": true},
              "encoding": {"detail": {"field": "id"}}
            },
            {
              "data": {"name": "tagBoxes"},
              "mark": {"type": "rect"},
              "encoding": {
                "x2": {"field": "t2"},
                "y2": {"field": "p2"},
                "color": {
                  "condition": [
                    {"test": "datum.kind == 'last'", "value": "#dc5a4e"},
                    {"test": "datum.kind == 'timer'", "value": "#e6786c"},
                    {"test": "datum.kind == 'support'", "value": "#f21e1e"}
                  ],
                  "value": "#efe2d5"
                }
              }
            },
            {
              "data": {"name": "tagText"},
              "mark": {"type": "text", "align": "left", "baseline": "middle", "dx": 3, "fontSize": 9},
              "encoding": {
                "text": {"field": "label"},
                "color": {"condition": {"test": "datum.kind == 'unit'", "value": "#555555"}, "value": "#ffffff"}
              }
            }
          ]
        }
      ],
      "resolve": {"scale": {"y": "independent"}}
    },
    {
      "width": 988,
      "height": 97,
      "view": {"fill": "#f1e2d2", "stroke": null},
      "title": {
        "text": "RSI (14, close)",
        "offset": -16,
        "dx": 6,
        "fontSize": 10,
        "color": "#5d5d5d"
      },
      "encoding": {
        "x": {
          "field": "t", "type": "temporal",
          "scale": {"type": "utc", "domain": [1609029705600, 1614007166400]},
          "axis": {
            "orient": "bottom", "offset": -19,
            "values": [1609113600000, 1609459200000, 1609804800000, 1610323200000, 1610625600000, 1610928000000, 1611230400000, 1611532800000, 1611835200000, 1612137600000, 1612440000000, 1612742400000, 1613044800000, 1613347200000, 1613649600000],
            "labelExpr": "utchours(datum.value) == 12 ? '12:00' : (utcdate(datum.value) == 1 ? (utcmonth(datum.value) == 0 ? '2021' : 'Feb') : '' + utcdate(datum.value))",
            "tickSize": 3, "labelPadding": 1, "labelOverlap": false, "labelFlush": false
          }
        },
        "y": {
          "field": "lv", "type": "quantitative",
          "scale": {"domain": [9.8, 88.98], "nice": false, "zero": false},
          "axis": {"orient": "right", "offset": -48, "values": [40, 60, 80], "format": ".2f", "tickSize": 4, "labelPadding": 3, "labelOverlap": false}
        }
      },
      "layer": [
        {
          "data": {"name": "bands"},
          "mark": {"type": "rect", "fill": "#e7cbd9"},
          "encoding": {"x2": {"field": "t2"}, "y2": {"field": "lv2"}}
        },
        {
          "data": {"name": "bandLines"},
          "mark": {"type": "rule", "color": "#b9a2aa", "strokeDash": [3, 3], "strokeWidth": 1},
          "encoding": {"x2": {"field": "t2"}}
        },
        {
          "data": {"name": "rsiEdges"},
          "mark": {"type": "rule", "color": "#aaa197", "strokeWidth": 1, "clip": true},
          "encoding": {"x2": {"field": "t2"}}
        },
        {
          "data": {"name": "candles"},
          "mark": {"type": "line", "color": "#8e44ad", "strokeWidth": 1.2},
          "encoding": {
            "y": {
              "field": "r", "type": "quantitative",
              "scale": {"domain": [9.8, 88.98], "nice": false, "zero": false},
              "axis": {"orient": "right", "offset": -48, "values": [40, 60, 80], "format": ".2f", "tickSize": 4, "labelPadding": 3, "labelOverlap": false}
            }
          }
        }
      ]
    },
    {
      "width": 988,
      "height": 27,
      "view": {"fill": "#ffffff", "stroke": null},
      "title": {
        "text": "TradingView",
        "offset": -18,
        "dx": 22,
        "fontSize": 11,
        "color": "#2a2e39"
      },
      "data": {"values": [{}]},
      "mark": {"type": "point", "opacity": 0},
      "encoding": {}
    }
  ]
}
